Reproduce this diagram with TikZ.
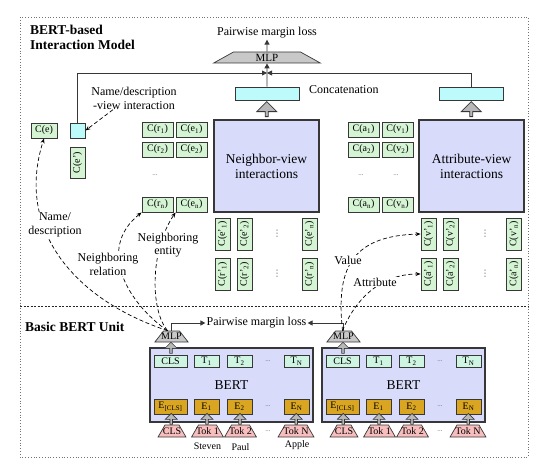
\documentclass[tikz,border=0pt]{standalone}
\usepackage{fontspec}
\setmainfont{Liberation Serif}
\newfontfamily\symfont{DejaVu Sans}
\usepackage{tikz}
\usetikzlibrary{arrows.meta,positioning,calc,shapes.geometric,shapes.arrows}
\definecolor{cgreen}{RGB}{212,244,212}
\definecolor{ccyan}{RGB}{188,250,252}
\definecolor{clav}{RGB}{216,220,250}
\definecolor{cmint}{RGB}{206,244,226}
\definecolor{cgold}{RGB}{218,166,34}
\definecolor{cpink}{RGB}{248,190,190}
\definecolor{cmlp}{RGB}{200,200,200}
\definecolor{cline}{RGB}{55,55,55}
\newcommand{\smlfont}{\fontsize{10}{11}\selectfont}
\newcommand{\lblfont}{\fontsize{12}{13.5}\selectfont}
\tikzset{
  cnode/.style={draw=cline, line width=0.9pt, fill=cgreen, minimum width=31pt,
    minimum height=15pt, inner sep=0pt, font=\smlfont},
  cvert/.style={cnode, rotate=90, minimum width=32pt},
  catbox/.style={draw=cline, line width=0.9pt, fill=ccyan, minimum width=64pt,
    minimum height=13pt, inner sep=0pt},
  viewbox/.style={draw=cline, line width=1.3pt, fill=clav, minimum width=105pt,
    minimum height=92pt, align=center, font=\fontsize{13.5}{15}\selectfont},
  bertbox/.style={viewbox, minimum width=163pt, minimum height=74pt},
  tnode/.style={cnode, fill=cmint, minimum width=25pt, minimum height=12pt},
  enode/.style={cnode, fill=cgold, minimum width=25pt, minimum height=15pt},
  % trapezia: the empty text box gives the top edge and the height
  toknode/.style={trapezium, trapezium angle=60, draw=cline, line width=0.7pt,
    fill=cpink, text width=18pt, text height=12pt, text depth=0pt, inner sep=0pt,
    label={[font=\smlfont]center:#1}},
  mlpnode/.style={trapezium, trapezium angle=52, draw=cline, line width=0.7pt,
    fill=cmlp, text width=16pt, text height=11pt, text depth=0pt, inner sep=0pt,
    label={[font=\smlfont]center:MLP}},
  mlpbig/.style={trapezium, trapezium angle=29, draw=cline, line width=0.7pt,
    fill=cmlp, text width=67pt, text height=11pt, text depth=0pt, inner sep=0pt,
    label={[font=\fontsize{11}{12}\selectfont]center:MLP}},
  blockbig/.style={single arrow, shape border rotate=90, draw=cline,
    line width=0.8pt, fill=black!28, minimum width=20pt, minimum height=15pt,
    single arrow head extend=5pt, inner sep=0.5pt},
  blocksml/.style={blockbig, minimum width=12pt, minimum height=11pt,
    single arrow head extend=3pt, line width=0.6pt},
  headtxt/.style={font=\fontsize{13.5}{15}\selectfont\bfseries, align=left, inner sep=0pt},
  lbl/.style={font=\lblfont, align=center, inner sep=1pt},
  elide/.style={font=\fontsize{7}{8}\selectfont, text=black!60},
  velide/.style={font=\symfont\fontsize{9}{10}\selectfont, text=black!60, inner sep=0pt},
  flow/.style={-{Triangle[length=5pt,width=5pt]}, line width=0.9pt, cline},
  dflow/.style={-{Stealth[length=5pt,width=4pt]}, line width=0.7pt,
    dash pattern=on 4pt off 2.5pt}
}

\begin{document}
\begin{tikzpicture}[x=1pt,y=-1pt]
  \useasboundingbox (0,0) rectangle (549,468);
  % frames of the two parts
  \draw[black!55, line width=0.8pt, dotted] (20,17) rectangle (528,457);
  \draw[black!85, line width=0.8pt, dash pattern=on 2pt off 1.5pt] (20,306) -- (528,306);

  % interaction model
  \node[headtxt, anchor=north west] (ttop) at (30,25) {BERT-based\\Interaction Model};
  \node[lbl] (loss) at (267,33) {Pairwise margin loss};
  \node[mlpbig] (mlp) at (267,57.5) {};
  \node[catbox] (catn) at (267,93.5) {};
  \node[catbox] (cata) at (471,93.5) {};
  \node[lbl, anchor=west] (concat) at (308,90) {Concatenation};
  \coordinate (join) at (267,73);
  \node[viewbox] (nbox) at (266.5,166) {Neighbor-view\\interactions};
  \node[viewbox] (abox) at (471.5,166) {Attribute-view\\interactions};
  \node[blockbig] (upn) at ($(nbox.north)!0.5!(catn.south)$) {};
  \node[blockbig] (upa) at ($(abox.north)!0.5!(cata.south)$) {};

  % name/description view
  \node[cnode, minimum width=26pt] (ce) at (44,130.5) {C(e)};
  \node[catbox, minimum width=15pt, minimum height=15pt] (nd) at (77.5,130.5) {};
  \node[cvert, minimum width=31pt] (cep) at (77.5,162.5) {C(e')};
  \node[lbl] (ndl) at (134,98.5) {Name/description\\-view interaction};

  % neighbor view
  \node[cnode] (r1) at (157.5,129.5) {C(r\textsubscript{1})};
  \node[cnode] (e1) at (191.5,129.5) {C(e\textsubscript{1})};
  \node[cnode] (r2) at (157.5,149.5) {C(r\textsubscript{2})};
  \node[cnode] (e2) at (191.5,149.5) {C(e\textsubscript{2})};
  \node[elide] (rdots) at (155,175) {...};
  \node[cnode] (rn) at (157.5,204.5) {C(r\textsubscript{n})};
  \node[cnode] (en) at (191.5,204.5) {C(e\textsubscript{n})};
  \node[cvert] (ep1) at (222.5,234) {C(e'\textsubscript{1})};
  \node[cvert] (ep2) at (244.5,234) {C(e'\textsubscript{2})};
  \node[cvert] (epn) at (309.5,234) {C(e'\textsubscript{n})};
  \node[cvert] (rp1) at (222.5,274) {C(r'\textsubscript{1})};
  \node[cvert] (rp2) at (244.5,274) {C(r'\textsubscript{2})};
  \node[cvert] (rpn) at (309.5,274) {C(r'\textsubscript{n})};
  \node[velide] (epdots) at (277,234) {⋮};
  \node[velide] (rpdots) at (277,274) {⋮};

  % attribute view
  \node[cnode] (a1) at (363.5,129.5) {C(a\textsubscript{1})};
  \node[cnode] (v1) at (397.5,129.5) {C(v\textsubscript{1})};
  \node[cnode] (a2) at (363.5,149.5) {C(a\textsubscript{2})};
  \node[cnode] (v2) at (397.5,149.5) {C(v\textsubscript{2})};
  \node[elide] (adots) at (361,175) {...};
  \node[elide] (vdots) at (396,175) {...};
  \node[cnode] (an) at (363.5,204.5) {C(a\textsubscript{n})};
  \node[cnode] (vn) at (397.5,204.5) {C(v\textsubscript{n})};
  \node[cvert] (vp1) at (428.5,234) {C(v'\textsubscript{1})};
  \node[cvert] (vp2) at (450.5,234) {C(v'\textsubscript{2})};
  \node[cvert] (vpn) at (514,234) {C(v'\textsubscript{n})};
  \node[cvert] (ap1) at (428.5,274) {C(a'\textsubscript{1})};
  \node[cvert] (ap2) at (450.5,274) {C(a'\textsubscript{2})};
  \node[cvert] (apn) at (514,274) {C(a'\textsubscript{n})};
  \node[velide] (vpdots) at (485,234) {⋮};
  \node[velide] (apdots) at (485,274) {⋮};

  \draw[flow] (catn.north) -- (mlp.south);
  \draw[flow] (mlp.north) -- (loss.south);
  \draw[flow] (nd.north) |- (join);
  \draw[flow] (cata.north) |- (join);
  \draw[dflow] ($(ndl.south)+(-21,-1)$) -- (nd.east);

  % basic BERT units
  \node[headtxt, anchor=west] (tbot) at (25,327) {Basic BERT Unit};
  \foreach \u/\dx in {l/0,r/172}{
    \node[bertbox] (bert\u) at (231.5+\dx,385) {BERT};
    \node[tnode, minimum width=33pt] (cls\u) at (170.5+\dx,361) {CLS};
    \node[tnode] (ta\u) at (206.5+\dx,361) {T\textsubscript{1}};
    \node[tnode] (tb\u) at (239.5+\dx,361) {T\textsubscript{2}};
    \node[elide] (tdots\u) at (268+\dx,361) {...};
    \node[tnode] (tn\u) at (296.5+\dx,361) {T\textsubscript{N}};
    \node[enode, minimum width=33pt] (ecls\u) at (170.5+\dx,406.5) {E\textsubscript{[CLS]}};
    \node[enode] (ea\u) at (206.5+\dx,406.5) {E\textsubscript{1}};
    \node[enode] (eb\u) at (239.5+\dx,406.5) {E\textsubscript{2}};
    \node[elide] (edots\u) at (268+\dx,406.5) {...};
    \node[enode] (en\u) at (296.5+\dx,406.5) {E\textsubscript{N}};
    \node[toknode=CLS, text width=14pt] (kcls\u) at (172+\dx,431) {};
    \node[toknode={Tok 1}] (ka\u) at (207.5+\dx,431) {};
    \node[toknode={Tok 2}] (kb\u) at (240.5+\dx,431) {};
    \node[elide] (kdots\u) at (268+\dx,431) {...};
    \node[toknode={Tok N}, text width=22pt] (kn\u) at (296+\dx,431) {};
    \node[mlpnode] (mlp\u) at (171.5+\dx,336.5) {};
    \node[blocksml] at ($(cls\u.north)!0.5!(mlp\u.south)$) {};
    \node[blocksml] at ($(kcls\u.north)!0.5!(ecls\u.south)$) {};
    \node[blocksml] at ($(ka\u.north)!0.5!(ea\u.south)$) {};
    \node[blocksml] at ($(kb\u.north)!0.5!(eb\u.south)$) {};
    \node[blocksml] at ($(kn\u.north)!0.5!(en\u.south)$) {};
  }
  \node[font=\smlfont] (wsteven) at (207.5,446) {Steven};
  \node[font=\smlfont] (wpaul) at (240.5,447) {Paul};
  \node[font=\smlfont] (wapple) at (297,445) {Apple};

  \node[lbl] (lossb) at (256.5,323) {Pairwise margin loss};
  \draw[flow] (mlpl.north) |- (lossb.west);
  \draw[flow] (mlpr.north) |- (lossb.east);

  % views fed by the basic unit
  \coordinate (hubl) at ($(mlpl.north)+(-4,0)$);
  \coordinate (hubr) at ($(mlpr.north)+(-1,0)$);
  \draw[dflow] (hubl) .. controls (75,300) and (15,230) .. (ce.south);
  \draw[dflow] (hubl) .. controls (130,305) and (95,250) .. (rn.south west);
  \draw[dflow] (hubl) .. controls (150,310) and (150,250) .. (en.south west);
  \draw[dflow] (hubr) .. controls (336,270) and (350,236) .. (vp1.north);
  \draw[dflow] (hubr) .. controls (355,300) and (380,274) .. (ap1.north);
  \node[lbl, fill=white] (lname) at (55,225) {Name/\\description};
  \node[lbl, fill=white] (lrel) at (108,264.5) {Neighboring\\relation};
  \node[lbl, fill=white] (lent) at (168,245) {Neighboring\\entity};
  \node[lbl, fill=white] (lval) at (348,260) {Value};
  \node[lbl, fill=white] (lattr) at (375,282) {Attribute};
\end{tikzpicture}
\end{document}
